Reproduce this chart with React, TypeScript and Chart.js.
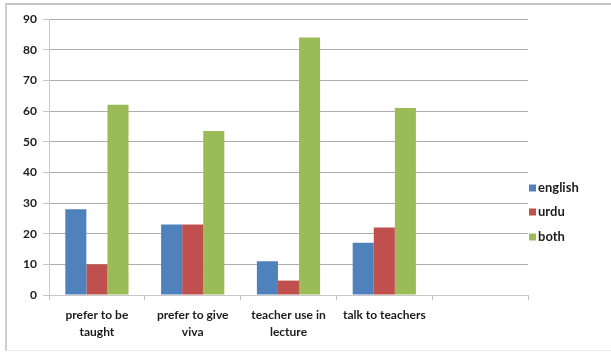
import React, { useEffect, useRef } from "react";
import { Chart, registerables } from "chart.js";

Chart.register(...registerables);

// Survey categories (the fifth slot is left empty on the axis)
const categories: (string | string[])[] = [
  ["prefer to be", "taught"],
  ["prefer to give", "viva"],
  ["teacher use in", "lecture"],
  "talk to teachers",
  "",
];

const englishValues = [28, 23, 11, 17, null];
const urduValues = [10, 23, 4.7, 22, null];
const bothValues = [62, 53.5, 84, 61, null];

const seriesNames = ["english", "urdu", "both"];
const seriesColors = ["#4F81BD", "#C0504D", "#9BBB59"];

const yMin = 0;
const yMax = 90;
const yStep = 10;

const FONT = "Lato, 'Open Sans', 'DejaVu Sans', sans-serif";
const TEXT = "#1c1c1c";

// Legend on the right, drawn beside the plot area
const sideLegend = {
  id: "sideLegend",
  afterDraw(chart: Chart) {
    const { ctx, chartArea } = chart;
    const x = chartArea.right + 1;
    const rows = [188, 212, 237];
    ctx.save();
    ctx.font = `bold 13px ${FONT}`;
    ctx.textBaseline = "middle";
    ctx.textAlign = "left";
    chart.data.datasets.forEach((ds, i) => {
      const y = rows[i];
      ctx.fillStyle = ds.backgroundColor as string;
      ctx.fillRect(x, y - 3.5, 7, 7);
      ctx.fillStyle = TEXT;
      ctx.fillText(ds.label as string, x + 9, y);
    });
    ctx.restore();
  },
};

export default function App() {
  const canvasRef = useRef<HTMLCanvasElement | null>(null);

  useEffect(() => {
    const canvas = canvasRef.current;
    if (!canvas) return;
    const values = [englishValues, urduValues, bothValues];
    const chart = new Chart(canvas, {
      type: "bar",
      data: {
        labels: categories,
        datasets: seriesNames.map((name, i) => ({
          label: name,
          data: values[i],
          backgroundColor: seriesColors[i],
          borderWidth: 0,
          categoryPercentage: 0.66,
          barPercentage: 1,
        })),
      },
      options: {
        responsive: false,
        animation: false,
        layout: { padding: { top: 19, right: 83, left: 0, bottom: 0 } },
        plugins: {
          legend: { display: false },
          tooltip: { enabled: false },
        },
        scales: {
          x: {
            offset: true,
            grid: {
              offset: true,
              drawOnChartArea: false,
              drawTicks: true,
              tickLength: 5,
              color: "#c4c4c4",
            },
            border: { color: "#c8c8c8", width: 1 },
            ticks: {
              color: TEXT,
              padding: 7,
              maxRotation: 0,
              autoSkip: false,
              font: { family: FONT, size: 12, weight: "bold", lineHeight: 1.4 },
            },
            afterFit(scale: any) {
              scale.height = 61;
              scale.paddingLeft = 0;
              scale.paddingRight = 0;
            },
          },
          y: {
            min: yMin,
            max: yMax,
            ticks: {
              stepSize: yStep,
              color: TEXT,
              padding: 6,
              font: { family: FONT, size: 12, weight: "bold" },
            },
            grid: {
              color: "#adadad",
              tickLength: 6,
              tickColor: "#c4c4c4",
            },
            border: { color: "#cdcdcd", width: 1 },
            afterFit(scale: any) {
              scale.width = 49;
              scale.paddingTop = 0;
              scale.paddingBottom = 0;
            },
          },
        },
      },
      plugins: [sideLegend],
    });
    return () => chart.destroy();
  }, []);

  return (
    <div
      style={{
        position: "absolute",
        left: 0,
        top: 0,
        width: 611,
        height: 356,
        background: "#ffffff",
        overflow: "hidden",
      }}
    >
      <div
        style={{
          position: "absolute",
          left: 5,
          top: 3,
          width: 640,
          height: 348,
          borderTop: "2px solid #c6c6c6",
          borderLeft: "2px solid #cfcfcf",
          borderBottom: "1px solid #ececec",
          boxSizing: "border-box",
        }}
      />
      <canvas
        ref={canvasRef}
        width={611}
        height={356}
        style={{ position: "absolute", left: 0, top: 0, width: 611, height: 356 }}
      />
    </div>
  );
}
